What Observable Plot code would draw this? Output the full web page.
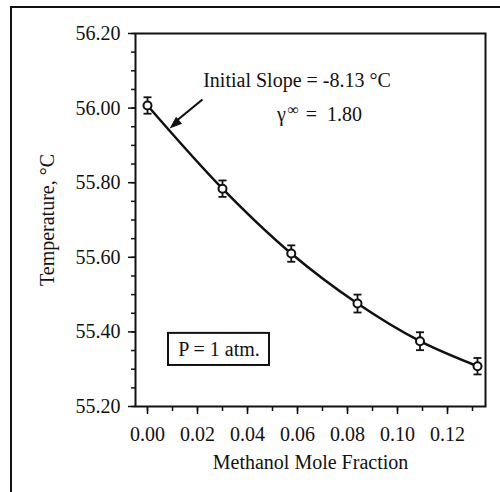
<!DOCTYPE html>
<html>
<head>
<meta charset="utf-8">
<script src="https://cdn.jsdelivr.net/npm/d3@7"></script>
<script src="https://cdn.jsdelivr.net/npm/@observablehq/plot@0.6"></script>
<style>
  html, body { margin: 0; padding: 0; background: #fff; }
  #wrap { position: relative; width: 500px; height: 492px; overflow: hidden; }
  #frame { position: absolute; left: 10px; top: 6px; width: 500px; height: 500px;
           border-top: 2.5px solid #111; border-left: 2.5px solid #111; box-sizing: border-box; pointer-events: none; }
  #wrap svg text { font-family: "Liberation Serif", "Times New Roman", serif; }
</style>
</head>
<body>
<div id="wrap"><div id="frame"></div></div>
<script>
// Data
const xFrac = [0.000, 0.030, 0.0575, 0.084, 0.109, 0.132];
const temp  = [56.007, 55.784, 55.61, 55.476, 55.375, 55.308];
const err   = [0.022, 0.022, 0.022, 0.024, 0.024, 0.022];
const yTicks = [55.2, 55.4, 55.6, 55.8, 56.0, 56.2];
const xTicks = [0.00, 0.02, 0.04, 0.06, 0.08, 0.10, 0.12];

const pts = xFrac.map((x, i) => ({x, y: temp[i], lo: temp[i] - err[i], hi: temp[i] + err[i]}));

const ink = "#111";
const font = "Liberation Serif, Times New Roman, serif";
const capSymbol = { draw(ctx, size) { const r = Math.sqrt(size / Math.PI); ctx.moveTo(-r, 0); ctx.lineTo(r, 0); } };
// arrow head with its tip at the origin, pointing up
const headSymbol = { draw(ctx, size) { const r = Math.sqrt(size / Math.PI); ctx.moveTo(0, 0); ctx.lineTo(-r * 0.55, r * 1.5); ctx.lineTo(r * 0.55, r * 1.5); ctx.closePath(); } };

const chart = Plot.plot({
  width: 500, height: 492,
  marginLeft: 135, marginTop: 33, marginRight: 15, marginBottom: 86,
  style: { fontFamily: font, fontSize: "19px", color: ink, background: "transparent" },
  x: { domain: [-0.0048, 0.1352] },
  y: { domain: [55.2, 56.2] },
  marks: [
    Plot.frame({ stroke: ink, strokeWidth: 2 }),
    // y axis ticks
    Plot.axisY({ ticks: d3.range(55.2, 56.2001, 0.05), tickSize: 4, text: null, label: null, strokeWidth: 1.5 }),
    Plot.axisY({ ticks: yTicks, tickSize: 7, tickPadding: 8, strokeWidth: 1.5, tickFormat: d => d.toFixed(2), label: null, fontSize: 20, fontFamily: font, fill: ink }),
    // x axis ticks
    Plot.axisX({ ticks: d3.range(0, 0.1301, 0.01), tickSize: 5, text: null, label: null, strokeWidth: 1.5 }),
    Plot.axisX({ ticks: xTicks, tickSize: 8, tickPadding: 12, strokeWidth: 1.5, tickFormat: d => d.toFixed(2), label: null, fontSize: 20, fontFamily: font, fill: ink }),
    // axis titles
    Plot.text(["Methanol Mole Fraction"], { frameAnchor: "bottom", textAnchor: "middle", dy: 62, fontSize: 20, fontFamily: font, fill: ink }),
    Plot.text(["Temperature, °C"], { frameAnchor: "left", textAnchor: "middle", rotate: -90, dx: -88, fontSize: 20, fontFamily: font, fill: ink }),
    // fitted curve through points
    Plot.line(pts, { x: "x", y: "y", curve: "catmull-rom", stroke: ink, strokeWidth: 2.5 }),
    // error bars
    Plot.ruleX(pts, { x: "x", y1: "lo", y2: "hi", stroke: ink, strokeWidth: 1.8 }),
    Plot.dot(pts, { x: "x", y: "lo", symbol: capSymbol, r: 4, stroke: ink, strokeWidth: 1.8 }),
    Plot.dot(pts, { x: "x", y: "hi", symbol: capSymbol, r: 4, stroke: ink, strokeWidth: 1.8 }),
    Plot.dot(pts, { x: "x", y: "y", r: 4, fill: "white", stroke: ink, strokeWidth: 2 }),
    // annotation arrow
    Plot.link([{x1: 0.022, y1: 56.023, x2: 0.0105, y2: 55.96}], { x1: "x1", y1: "y1", x2: "x2", y2: "y2", stroke: ink, strokeWidth: 2.2 }),
    Plot.dot([{x: 0.0093, y: 55.948}], { x: "x", y: "y", symbol: headSymbol, r: 7, rotate: -131, fill: ink, stroke: ink, strokeWidth: 1 }),
    Plot.text(["Initial Slope = -8.13 °C"], { x: 0.0598, y: 56.074, fontSize: 20, fontFamily: font, fill: ink }),
    Plot.text(["γ"], { x: 0.0518, y: 55.982, textAnchor: "start", fontSize: 20, fontFamily: font, fill: ink }),
    Plot.text(["∞"], { x: 0.0560, y: 55.982, dy: -5, textAnchor: "start", fontSize: 16, fontFamily: font, fill: ink }),
    Plot.text(["=  1.80"], { x: 0.0633, y: 55.982, textAnchor: "start", fontSize: 20, fontFamily: font, fill: ink }),
    // P = 1 atm box
    Plot.rect([{x1: 0.0084, x2: 0.0488, y1: 55.31, y2: 55.396}], { x1: "x1", x2: "x2", y1: "y1", y2: "y2", fill: "white", stroke: ink, strokeWidth: 2 }),
    Plot.text(["P = 1 atm."], { x: 0.0286, y: 55.353, fontSize: 20, fontFamily: font, fill: ink })
  ]
});
document.getElementById("wrap").insertBefore(chart, document.getElementById("frame"));
</script>
</body>
</html>
